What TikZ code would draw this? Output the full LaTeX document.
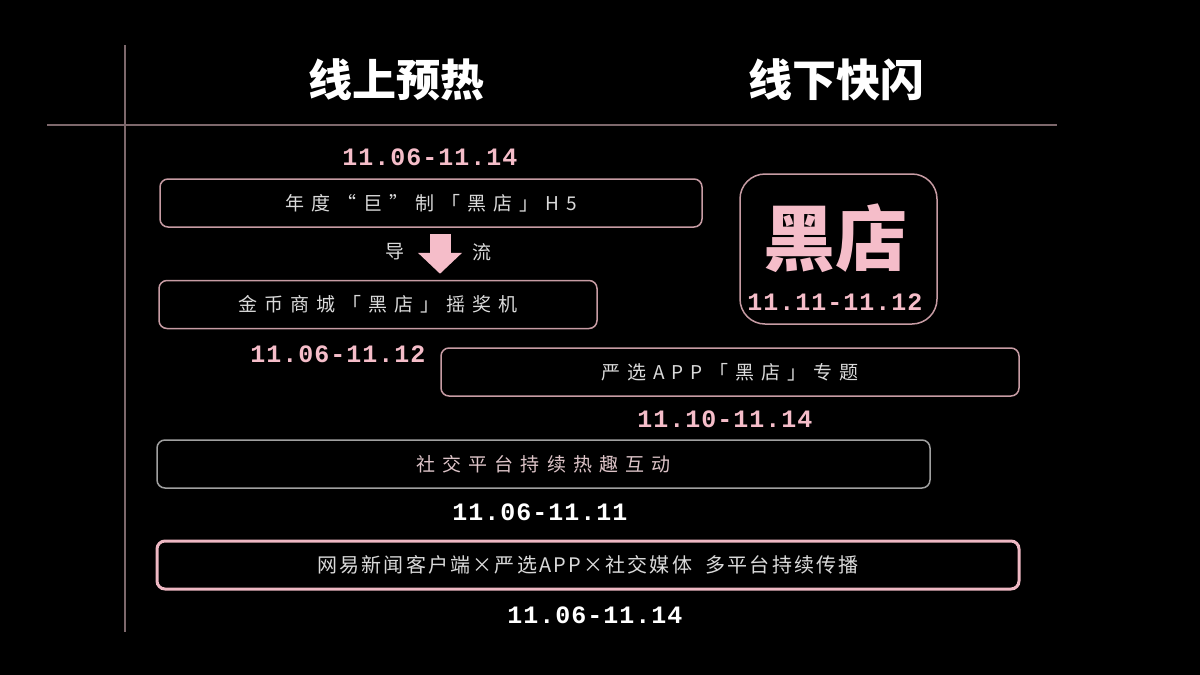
\documentclass[tikz,border=0pt]{standalone}
\usepackage{fontspec}
\usetikzlibrary{arrows.meta}
\newfontfamily\cjk{Noto Sans CJK SC}
\newfontfamily\datefont{Liberation Mono}[LetterSpace=4]
\definecolor{pinkfg}{HTML}{F5BDC9}
\definecolor{pinkline}{HTML}{C79CA4}
\definecolor{rulecol}{HTML}{7D686C}
\definecolor{greyline}{HTML}{A0A0A0}
\definecolor{boxtext}{HTML}{DADADA}

\begin{document}
\begin{tikzpicture}[x=1pt, y=-1pt,
  head/.style={font=\cjk\fontsize{44}{44}\selectfont\bfseries, text=white},
  box/.style={draw=pinkline, line width=1.5pt, rounded corners=8pt, minimum height=48pt, text=boxtext,
    font=\cjk\fontsize{19}{19}\selectfont\addfontfeatures{LetterSpace=37}},
  date/.style={font=\datefont\fontsize{25}{25}\selectfont\bfseries, text=pinkfg},
  side/.style={font=\cjk\fontsize{19}{19}\selectfont, text=boxtext}]
  \fill[black] (0,0) rectangle (1200,675);
  \draw[rulecol, line width=1.2pt] (125,45) -- (125,632);
  \draw[rulecol, line width=1.2pt] (47,125) -- (1057,125);

  \node[head] (online) at (396,80) {线上预热};
  \node[head] (offline) at (836,80) {线下快闪};

  \node[date] (d1) at (430,157) {11.06-11.14};
  \node[box, minimum width=542pt] (h5) at (431,203) {年度“巨”制「黑店」H5};
  \node[box, minimum width=438pt] (shake) at (378,304.5) {金币商城「黑店」摇奖机};
  \draw[pinkfg, line width=21pt, -{Triangle[width=43pt,length=21pt]}, shorten <=6pt, shorten >=6pt]
    (440,0 |- h5.south) -- (440,0 |- shake.north);
  \node[side] (guide) at (395,252) {导};
  \node[side] (flow) at (482,252) {流};

  \node[date] (d2) at (338,354) {11.06-11.12};
  \node[box, minimum width=578pt] (app) at (730,372) {严选APP「黑店」专题};
  \node[date] (d3) at (725,419) {11.10-11.14};
  \node[box, draw=greyline, text=pinkline!60!white, minimum width=773pt] (social) at (543.5,464) {社交平台持续热趣互动};
  \node[date, text=white] (d4) at (540,512) {11.06-11.11};
  \node[box, line width=3pt, draw=pinkfg!85!pinkline, minimum width=862pt,
    font=\cjk\fontsize{20}{20}\selectfont\addfontfeatures{LetterSpace=11}] (media) at (588,565)
    {网易新闻客户端×严选APP×社交媒体\ \ 多平台持续传播};
  \node[date, text=white] (d5) at (595,615) {11.06-11.14};

  \node[draw=pinkline, line width=1.5pt, rounded corners=25pt, minimum width=197pt, minimum height=150pt] (shop) at (838.5,249) {};
  \node[font=\cjk\fontsize{72}{72}\selectfont\bfseries, text=pinkfg] (shopname) at (835,238) {黑店};
  \node[date] (d6) at (835,302) {11.11-11.12};
\end{tikzpicture}
\end{document}
